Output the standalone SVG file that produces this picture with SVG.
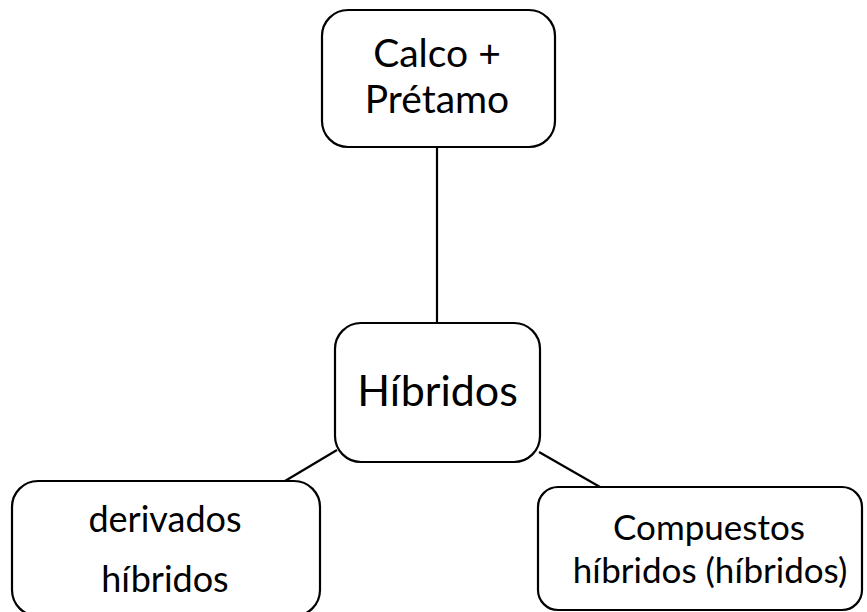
<svg xmlns="http://www.w3.org/2000/svg" width="867" height="612" viewBox="0 0 867 612">
<style>
.box{fill:#fff;stroke:#000;stroke-width:2.2}
.edge{stroke:#000;stroke-width:2.2;fill:none}
text{font-family:Lato,"Liberation Sans",sans-serif;fill:#000;text-anchor:middle}
</style>
<rect width="867" height="612" fill="#fff"/>
<g id="connectors">
<line class="edge" x1="437" y1="147" x2="437" y2="323"/>
<line class="edge" x1="337" y1="450" x2="285" y2="481"/>
<line class="edge" x1="539" y1="452" x2="600" y2="487"/>
</g>
<g id="calco">
<rect class="box" x="322" y="10" width="233" height="137" rx="26"/>
<text x="437" y="67" font-size="39">Calco +</text>
<text x="437" y="113" font-size="39">Prétamo</text>
</g>
<g id="hibridos">
<rect class="box" x="335" y="323" width="205" height="139" rx="26"/>
<text x="437.5" y="406" font-size="43">Híbridos</text>
</g>
<g id="derivados">
<rect class="box" x="12" y="481" width="308" height="135" rx="26"/>
<text x="165" y="532" font-size="36">derivados</text>
<text x="165" y="592" font-size="36">híbridos</text>
</g>
<g id="compuestos">
<rect class="box" x="538" y="487" width="324" height="123" rx="20"/>
<text x="709" y="540" font-size="35">Compuestos</text>
<text x="710" y="583" font-size="35">híbridos (híbridos)</text>
</g>
</svg>
